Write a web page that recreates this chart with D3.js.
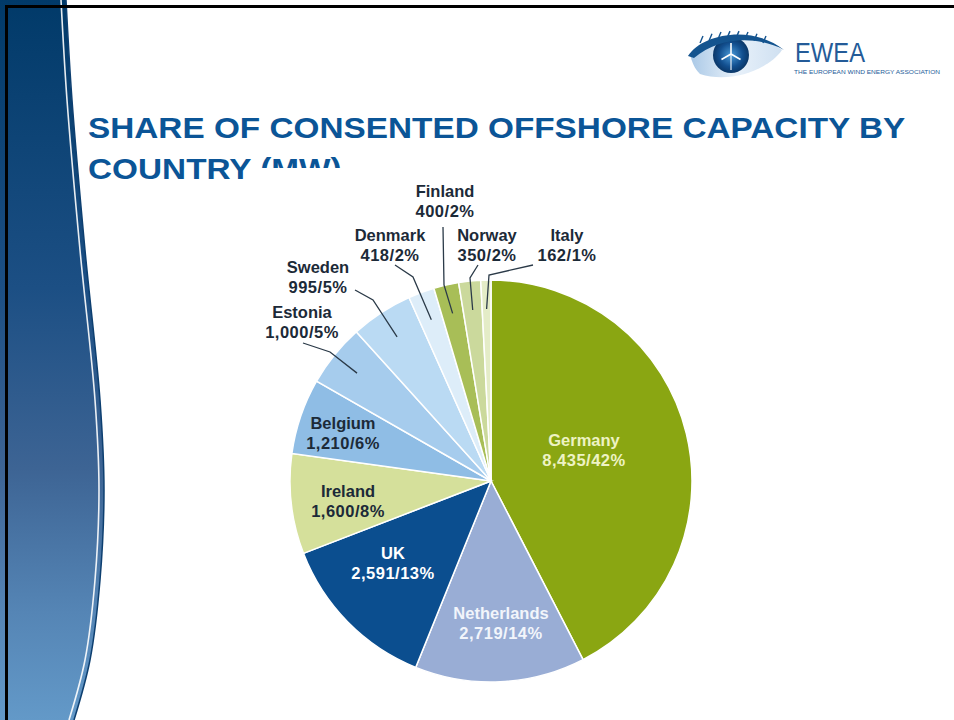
<!DOCTYPE html>
<html>
<head>
<meta charset="utf-8">
<script src="https://cdn.jsdelivr.net/npm/d3@7/dist/d3.min.js"></script>
<style>
  html, body { margin: 0; padding: 0; background: #fff; }
  svg { display: block; }
</style>
</head>
<body>
<svg id="chart" width="954" height="720"></svg>
<script>
// Consented offshore capacity by country (MW), clockwise from 12 o'clock
const countries = ["Germany", "Netherlands", "UK", "Ireland", "Belgium", "Estonia", "Sweden", "Denmark", "Finland", "Norway", "Italy"];
const capacityMW = [8435, 2719, 2591, 1600, 1210, 1000, 995, 418, 400, 350, 162];
const sharePct = [42, 14, 13, 8, 6, 5, 5, 2, 2, 2, 1];
const sliceColors = ["#8aa612", "#99add5", "#0b4e8f", "#d5e09b", "#8fbde5", "#a6cced", "#badaf3", "#ddedf9", "#a8be57", "#cbd99c", "#e4ecc7"];

// Label placement: inside labels sit at (x, y); outside labels also carry a leader path
const labelLayout = {
  Germany:     { x: 584, y: 446, fill: "#eef3c4" },
  Netherlands: { x: 501, y: 619, fill: "#f2f5fb" },
  UK:          { x: 393, y: 559, fill: "#ffffff" },
  Ireland:     { x: 348, y: 497, fill: "#1c2a38" },
  Belgium:     { x: 343, y: 429, fill: "#1c2a38" },
  Estonia:     { x: 302, y: 318, fill: "#1c2a38", leader: [[303, 343], [330, 352]] },
  Sweden:      { x: 318, y: 273, fill: "#1c2a38", leader: [[355, 290], [373, 300]] },
  Denmark:     { x: 390, y: 241, fill: "#1c2a38", leader: [[395, 265], [413, 277]] },
  Finland:     { x: 445, y: 197, fill: "#1c2a38", leader: [[443, 227], [444, 285]] },
  Norway:      { x: 487, y: 241, fill: "#1c2a38", leader: [[478, 265], [470, 278]] },
  Italy:       { x: 567, y: 241, fill: "#1c2a38", leader: [[533, 265], [489, 275]] }
};

const svg = d3.select("#chart");
const defs = svg.append("defs");

// ---- slide frame: curved gradient band on the left ----
const grad = defs.append("linearGradient").attr("id", "band").attr("x1", 0).attr("y1", 0).attr("x2", 0).attr("y2", 1);
[[0, "#013a69"], [0.4, "#1c4f84"], [0.65, "#3d6494"], [0.85, "#5585b5"], [1, "#6399c8"]]
  .forEach(([o, c]) => grad.append("stop").attr("offset", o).attr("stop-color", c));

const edge = [[66, 0], [72, 100], [85, 250], [100, 400], [104, 490], [100, 580], [90, 660], [74, 720]];
const curve = d3.line().curve(d3.curveCatmullRom);
const edgePath = curve(edge);
svg.append("path")
  .attr("d", "M0,0 " + edgePath.replace(/^M/, "L") + " L0,720 Z")
  .attr("fill", "url(#band)");
svg.append("path")
  .attr("d", curve(edge.map(([x, y]) => [x - 5, y])))
  .attr("fill", "none").attr("stroke", "#ffffff").attr("stroke-width", 1.6).attr("opacity", 0.9);
svg.append("path")
  .attr("d", edgePath)
  .attr("fill", "none").attr("stroke", "#0d3f70").attr("stroke-width", 1.5);

svg.append("rect").attr("x", 5).attr("y", 5).attr("width", 949).attr("height", 3).attr("fill", "#000");
svg.append("rect").attr("x", 5).attr("y", 5).attr("width", 3).attr("height", 715).attr("fill", "#000");

// ---- logo ----
const logo = svg.append("g");
const irisGrad = defs.append("radialGradient").attr("id", "iris");
irisGrad.append("stop").attr("offset", 0).attr("stop-color", "#4a9ad8");
irisGrad.append("stop").attr("offset", 0.65).attr("stop-color", "#124f8f");
irisGrad.append("stop").attr("offset", 1).attr("stop-color", "#0a3768");
const whiteGrad = defs.append("linearGradient").attr("id", "eyewhite").attr("x1", 0).attr("x2", 1);
whiteGrad.append("stop").attr("offset", 0).attr("stop-color", "#a9c8e6");
whiteGrad.append("stop").attr("offset", 0.5).attr("stop-color", "#e8f1fa");
whiteGrad.append("stop").attr("offset", 1).attr("stop-color", "#cfe0f1");
logo.append("path")
  .attr("d", "M690,54 C705,36 755,28 782,50 C768,70 730,84 700,74 C694,68 692,62 690,54 Z")
  .attr("fill", "url(#eyewhite)");
logo.append("circle").attr("cx", 731).attr("cy", 55).attr("r", 18).attr("fill", "url(#iris)");
logo.append("path")
  .attr("d", "M688,56 C702,34 752,24 784,50 C758,36 720,36 694,58 Z")
  .attr("fill", "#14548f");
d3.range(8).forEach(i => {
  const x = 700 + i * 9;
  logo.append("line").attr("x1", x).attr("y1", 43 - Math.sin(i / 7 * Math.PI) * 5)
    .attr("x2", x + 3).attr("y2", 36 - Math.sin(i / 7 * Math.PI) * 5)
    .attr("stroke", "#14548f").attr("stroke-width", 1.4);
});
[0, 120, 240].forEach(a => {
  logo.append("line")
    .attr("x1", 731).attr("y1", 54)
    .attr("x2", 731 + 11 * Math.sin(a * Math.PI / 180)).attr("y2", 54 - 11 * Math.cos(a * Math.PI / 180))
    .attr("stroke", "#ffffff").attr("stroke-width", 1.6);
});
logo.append("line").attr("x1", 731).attr("y1", 54).attr("x2", 731).attr("y2", 70).attr("stroke", "#ffffff").attr("stroke-width", 1.1);
logo.append("text").attr("x", 795).attr("y", 62)
  .attr("font-family", "Liberation Sans, Arial, sans-serif").attr("font-size", 27)
  .attr("textLength", 70).attr("lengthAdjust", "spacingAndGlyphs")
  .attr("fill", "#245b98").text("EWEA");
logo.append("text").attr("x", 794).attr("y", 74)
  .attr("font-family", "Liberation Sans, Arial, sans-serif").attr("font-size", 5.4)
  .attr("fill", "#245b98").attr("textLength", 146).attr("lengthAdjust", "spacingAndGlyphs")
  .text("THE EUROPEAN WIND ENERGY ASSOCIATION");

// ---- title ----
const title = svg.append("g")
  .attr("transform", "translate(88,0) scale(1.13,1)")
  .attr("font-family", "Liberation Sans, Arial, sans-serif")
  .attr("font-weight", "bold").attr("font-size", 29.5).attr("fill", "#0b5597");
title.append("text").attr("x", 0).attr("y", 138).text("SHARE OF CONSENTED OFFSHORE CAPACITY BY");
title.append("text").attr("x", 0).attr("y", 179).text("COUNTRY (MW)");

// chart panel sits over the lower part of the title
svg.append("rect").attr("x", 249).attr("y", 168).attr("width", 500).attr("height", 552).attr("fill", "#ffffff");

// ---- pie ----
const cx = 491, cy = 481, radius = 201;
const data = countries.map((c, i) => ({ country: c, mw: capacityMW[i], pct: sharePct[i], color: sliceColors[i] }));
const pie = d3.pie().value(d => d.mw).sort(null);
const arcs = pie(data);
const arc = d3.arc().innerRadius(0).outerRadius(radius);
const leaderArc = d3.arc().innerRadius(172).outerRadius(172);

const g = svg.append("g").attr("transform", `translate(${cx},${cy})`);
g.selectAll("path.slice").data(arcs).join("path")
  .attr("class", "slice")
  .attr("d", arc)
  .attr("fill", d => d.data.color)
  .attr("stroke", "#ffffff").attr("stroke-width", 1.5);

const fmt = d3.format(",");
const labels = svg.append("g")
  .attr("font-family", "Liberation Sans, Arial, sans-serif").attr("font-weight", "bold")
  .attr("font-size", 16.5).attr("text-anchor", "middle");

arcs.forEach(a => {
  const L = labelLayout[a.data.country];
  if (L.leader) {
    const [ex, ey] = leaderArc.centroid(a);
    const pts = L.leader.concat([[cx + ex, cy + ey]]);
    svg.append("path").attr("d", d3.line()(pts))
      .attr("fill", "none").attr("stroke", "#2b3a48").attr("stroke-width", 1.3);
  }
  labels.append("text").attr("fill", L.fill).attr("x", L.x).attr("y", L.y).text(a.data.country);
  labels.append("text").attr("fill", L.fill).attr("x", L.x).attr("y", L.y + 20)
    .attr("letter-spacing", 0.5).text(`${fmt(a.data.mw)}/${a.data.pct}%`);
});
</script>
</body>
</html>
